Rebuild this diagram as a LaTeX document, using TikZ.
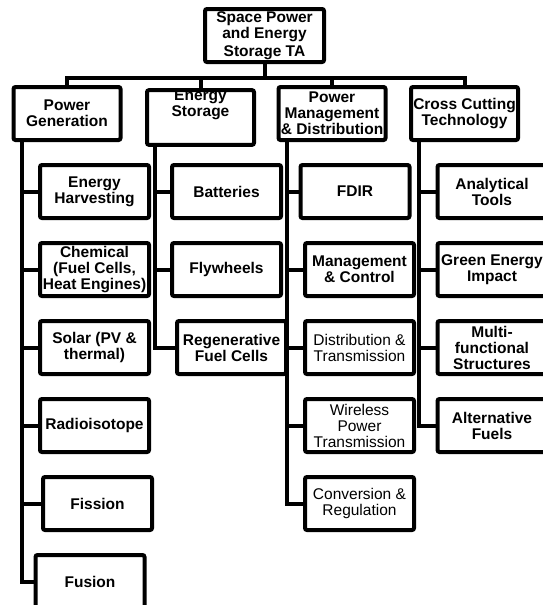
\documentclass[tikz,border=0pt]{standalone}
\usepackage{fontspec}
\setmainfont{Liberation Sans}
\usetikzlibrary{positioning}
\tikzstyle{root} = [rectangle, rounded corners=2pt, minimum width=119pt, minimum height=53pt, inner sep=0pt, align=center, draw=black, line width=4pt]
\tikzstyle{topic} = [rectangle, rounded corners=2pt, minimum width=107pt, minimum height=53pt, inner sep=0pt, align=center, draw=black, line width=4pt]
\tikzstyle{area} = [rectangle, rounded corners=2pt, minimum width=109pt, minimum height=53pt, inner sep=0pt, align=center, draw=black, line width=4pt]
\tikzstyle{plainfont} = [font=\fontsize{15.5}{16}\selectfont\mdseries]
\tikzstyle{link} = [line width=4pt]
\begin{document}
\begin{tikzpicture}[node distance=78pt, font=\fontsize{15.5}{16}\selectfont\bfseries]
\useasboundingbox (0,0) rectangle (542pt,-605pt);
%TA
\node(top)at(264.5pt,-35.5pt)[root]{Space Power\\and Energy\\[2pt]Storage TA};
\node(gen)[topic, below of=top, xshift=-197.5pt]{Power\\Generation};
\node(store)[topic, below of=top, xshift=-64pt, yshift=-4pt]{Energy\\Storage\\[12pt]~};
\node(pmd)[topic, below of=top, xshift=67.5pt]{Power\\Management\\\& Distribution};
\node(cross)[topic, below of=top, xshift=200pt]{Cross Cutting\\Technology};

%Power Generation
\node(harvest)[area, below of=gen, xshift=27.5pt]{Energy\\Harvesting};
\node(chem)[area, below of=harvest]{Chemical\\(Fuel Cells,\\Heat Engines)};
\node(solar)[area, below of=chem]{Solar (PV \&\\thermal)};
\node(radio)[area, below of=solar]{Radioisotope};
\node(fission)[area, below of=radio, xshift=3pt]{Fission};
\node(fusion)[area, below of=fission, xshift=-7.5pt]{Fusion};

%Energy Storage
\node(batt)[area, below of=store, xshift=26pt, yshift=4pt]{Batteries};
\node(fly)[area, below of=batt]{Flywheels};
\node(regen)[area, below of=fly, xshift=5pt]{Regenerative\\Fuel Cells};

%Power Management & Distribution
\node(fdir)[area, below of=pmd, xshift=23pt]{FDIR};
\node(manage)[area, below of=fdir, xshift=4.5pt]{Management\\\& Control};
\node(distrib)[area, plainfont, below of=manage]{Distribution \&\\Transmission};
\node(wireless)[area, plainfont, below of=distrib]{Wireless\\Power\\Transmission};
\node(convert)[area, plainfont, below of=wireless]{Conversion \&\\Regulation};

%Cross Cutting
\node(tools)[area, below of=cross, xshift=27.5pt]{Analytical\\Tools};
\node(green)[area, below of=tools]{Green Energy\\Impact};
\node(multi)[area, below of=green]{Multi-\\functional\\Structures};
\node(fuels)[area, below of=multi]{Alternative\\Fuels};

%lines
\draw[link](top.south)--++(0,-14pt)-|(gen.north);
\draw[link](top.south)--++(0,-14pt)-|(store.north);
\draw[link](top.south)--++(0,-14pt)-|(pmd.north);
\draw[link](top.south)--++(0,-14pt)-|(cross.north);

\draw[link]([xshift=10pt]gen.south west)|-(harvest.west);
\draw[link]([xshift=10pt]gen.south west)|-(chem.west);
\draw[link]([xshift=10pt]gen.south west)|-(solar.west);
\draw[link]([xshift=10pt]gen.south west)|-(radio.west);
\draw[link]([xshift=10pt]gen.south west)|-(fission.west);
\draw[link]([xshift=10pt]gen.south west)|-(fusion.west);

\draw[link]([xshift=10pt]store.south west)|-(batt.west);
\draw[link]([xshift=10pt]store.south west)|-(fly.west);
\draw[link]([xshift=10pt]store.south west)|-(regen.west);

\draw[link]([xshift=10pt]pmd.south west)|-(fdir.west);
\draw[link]([xshift=10pt]pmd.south west)|-(manage.west);
\draw[link]([xshift=10pt]pmd.south west)|-(distrib.west);
\draw[link]([xshift=10pt]pmd.south west)|-(wireless.west);
\draw[link]([xshift=10pt]pmd.south west)|-(convert.west);

\draw[link]([xshift=10pt]cross.south west)|-(tools.west);
\draw[link]([xshift=10pt]cross.south west)|-(green.west);
\draw[link]([xshift=10pt]cross.south west)|-(multi.west);
\draw[link]([xshift=10pt]cross.south west)|-(fuels.west);
\end{tikzpicture}
\end{document}
